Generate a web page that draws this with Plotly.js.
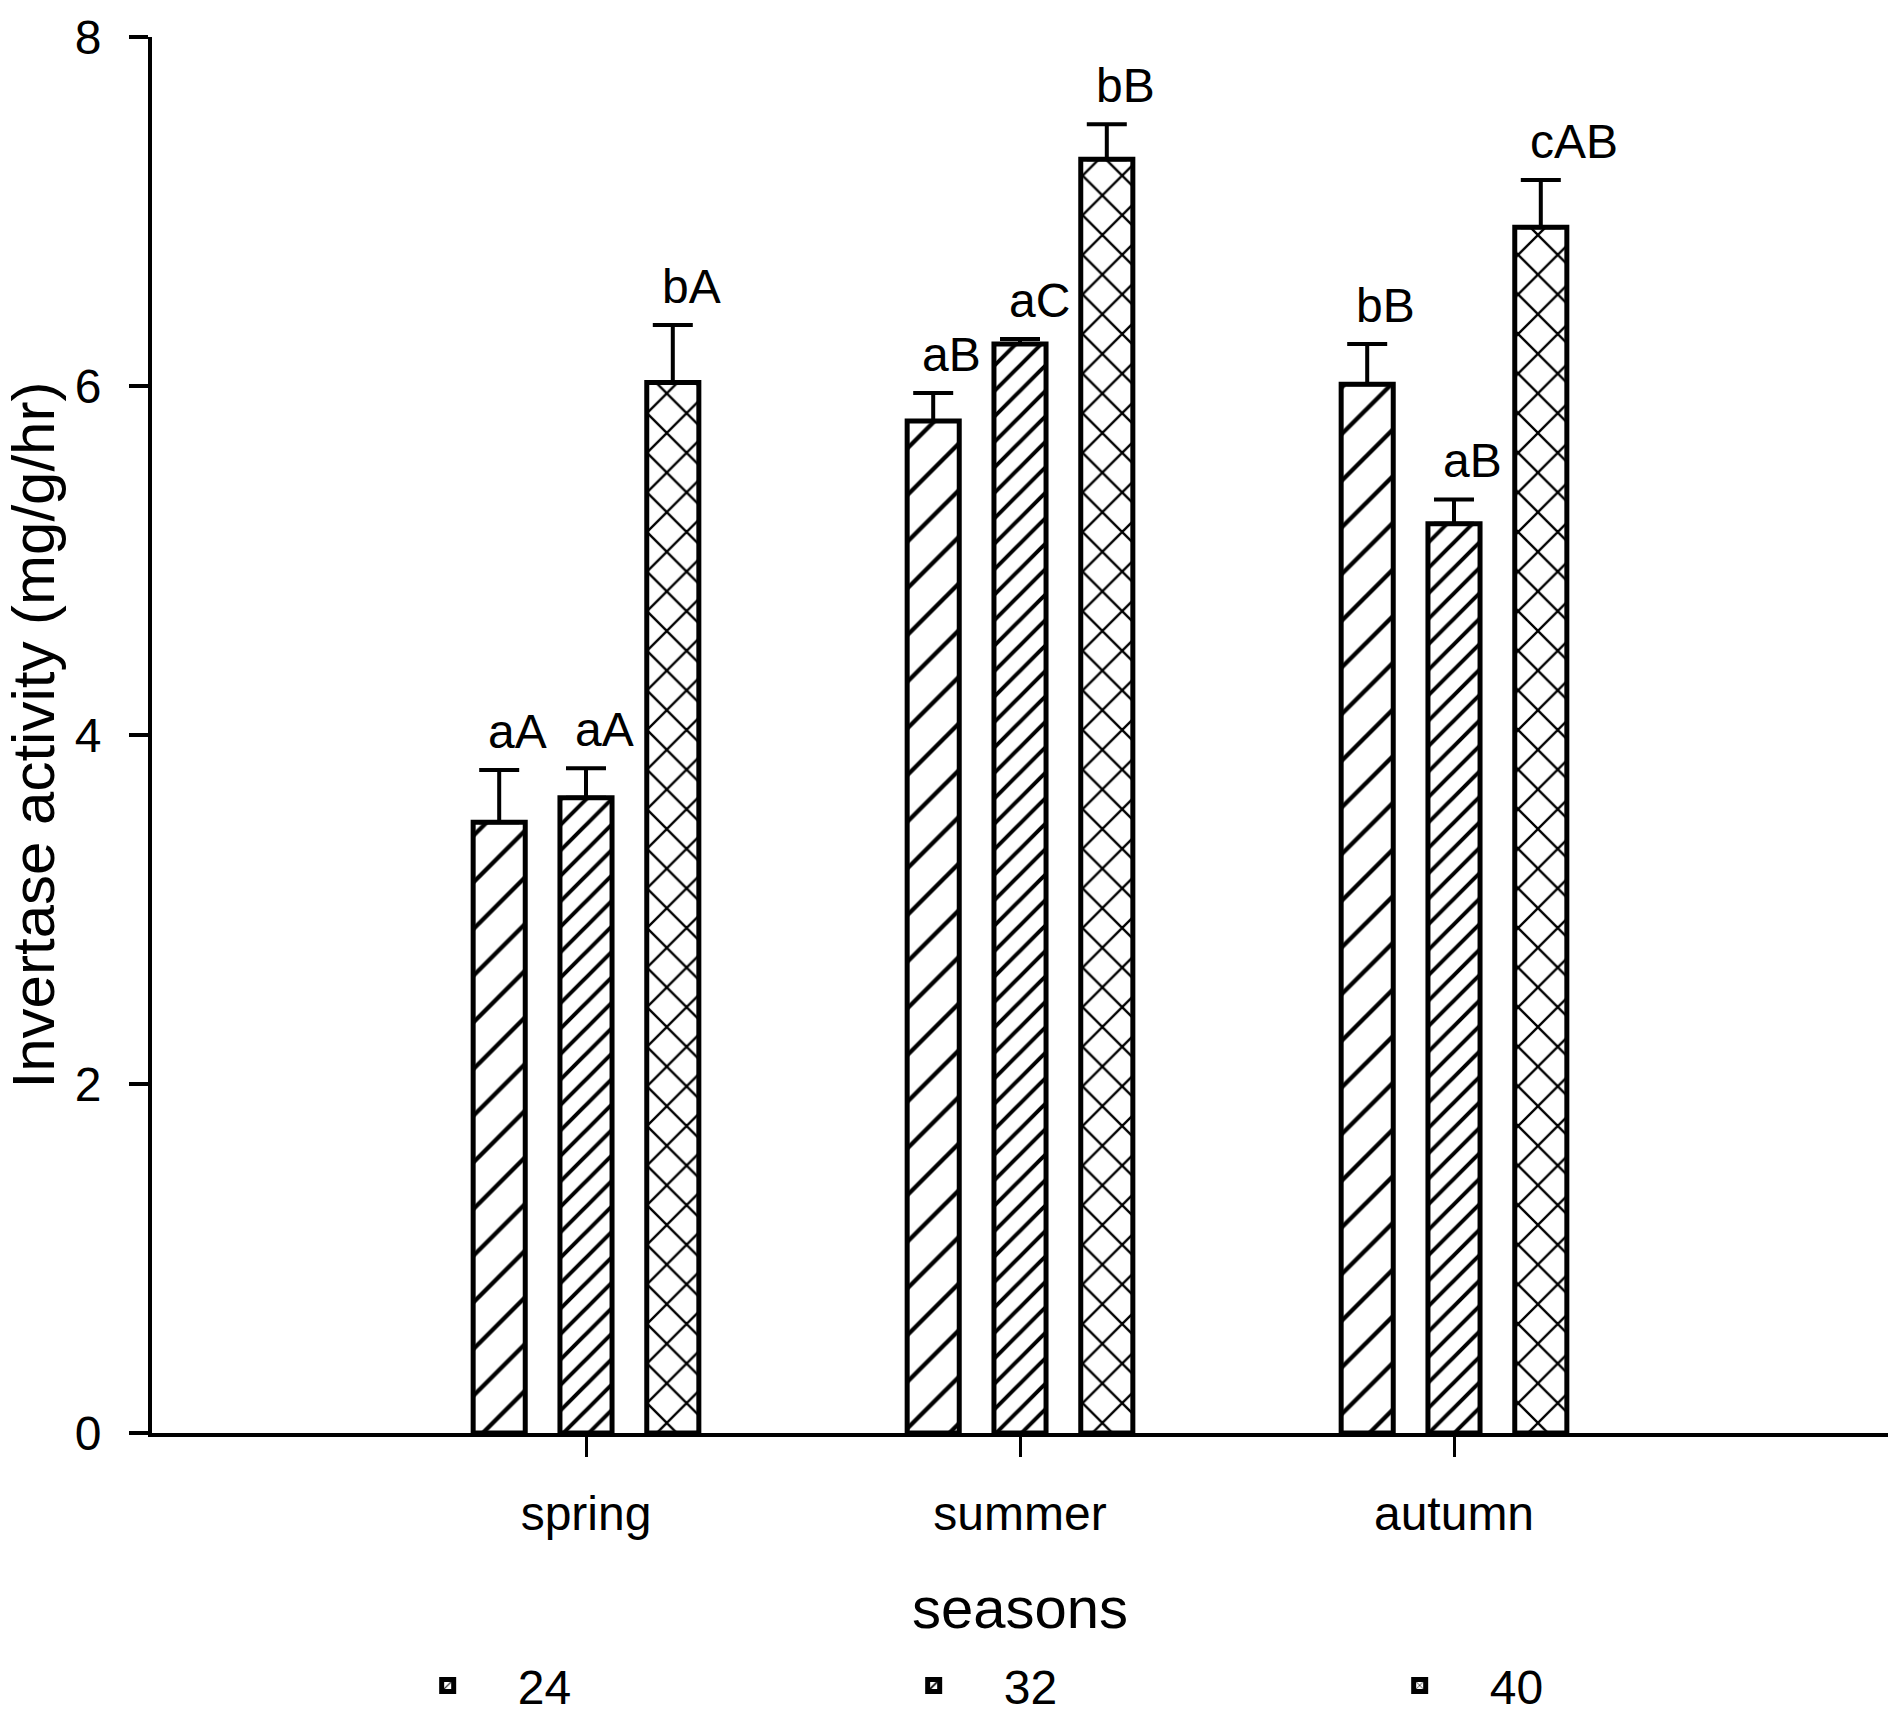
<!DOCTYPE html>
<html>
<head>
<meta charset="utf-8">
<script src="https://cdn.plot.ly/plotly-3.0.1.min.js"></script>
<style>
  html, body { margin: 0; padding: 0; background: #fff; }
  #myDiv { width: 1903px; height: 1729px; }
</style>
</head>
<body>
<div id="myDiv"></div>
<script>
var seasons = ['spring', 'summer', 'autumn'];
var groups = ['24', '32', '40'];

var mean24 = [3.50, 5.80, 6.01];
var mean32 = [3.64, 6.24, 5.21];
var mean40 = [6.02, 7.30, 6.91];

var err24 = [0.30, 0.16, 0.23];
var err32 = [0.17, 0.03, 0.14];
var err40 = [0.33, 0.20, 0.27];

var letters24 = ['aA', 'aB', 'bB'];
var letters32 = ['aA', 'aC', 'aB'];
var letters40 = ['bA', 'bB', 'cAB'];

var font = 'Liberation Sans, Arial, sans-serif';

var means = [mean24, mean32, mean40];
var errs = [err24, err32, err40];
var letters = [letters24, letters32, letters40];
var patterns = [
  {shape: '/', size: 33, solidity: 0.13},
  {shape: '/', size: 18, solidity: 0.22},
  {shape: 'x', size: 28, solidity: 0.16}
];

var data = [];
var annotations = [];
for (var g = 0; g < groups.length; g++) {
  data.push({
    x: seasons,
    y: means[g],
    name: groups[g],
    type: 'bar',
    marker: {
      color: 'white',
      line: {color: 'black', width: 5},
      pattern: {
        shape: patterns[g].shape,
        size: patterns[g].size,
        solidity: patterns[g].solidity,
        fgcolor: 'black',
        bgcolor: 'white',
        fillmode: 'replace'
      }
    },
    error_y: {
      type: 'data',
      symmetric: false,
      array: errs[g],
      arrayminus: [0, 0, 0],
      color: 'black',
      thickness: 4,
      width: 20
    }
  });
  for (var s = 0; s < seasons.length; s++) {
    annotations.push({
      x: s + (g - 1) * 0.2 - 0.03,
      y: means[g][s] + errs[g][s],
      xref: 'x',
      yref: 'y',
      text: letters[g][s],
      showarrow: false,
      xanchor: 'left',
      yanchor: 'bottom',
      yshift: 10,
      font: {family: font, size: 48, color: 'black'}
    });
  }
}

var layout = {
  width: 1903,
  height: 1729,
  paper_bgcolor: 'white',
  plot_bgcolor: 'white',
  margin: {l: 152, r: 15, t: 37, b: 296, autoexpand: false},
  font: {family: font, size: 48, color: 'black'},
  barmode: 'group',
  bargap: 0.4,
  bargroupgap: 0.4,
  showlegend: true,
  legend: {
    orientation: 'h',
    x: 0.13,
    y: -0.181,
    xanchor: 'left',
    yanchor: 'middle',
    entrywidth: 341,
    itemwidth: 130,
    font: {family: font, size: 48, color: 'black'}
  },
  xaxis: {
    type: 'category',
    range: [-1, 3],
    showline: true,
    linecolor: 'black',
    linewidth: 4,
    ticks: 'outside',
    ticklen: 20,
    tickwidth: 3,
    tickcolor: 'black',
    ticklabelstandoff: 15,
    showgrid: false,
    zeroline: false,
    automargin: false,
    tickfont: {family: font, size: 48},
    title: {
      text: 'seasons',
      standoff: 50,
      font: {family: font, size: 58}
    }
  },
  yaxis: {
    range: [0, 8],
    dtick: 2,
    showline: true,
    linecolor: 'black',
    linewidth: 4,
    ticks: 'outside',
    ticklen: 19,
    tickwidth: 4,
    tickcolor: 'black',
    ticklabelstandoff: 18,
    showgrid: false,
    zeroline: false,
    automargin: false,
    tickfont: {family: font, size: 48},
    title: {
      text: 'Invertase activity (mg/g/hr)',
      standoff: 10,
      font: {family: font, size: 60}
    }
  },
  annotations: annotations
};

Plotly.newPlot('myDiv', data, layout, {displayModeBar: false});
</script>
</body>
</html>
